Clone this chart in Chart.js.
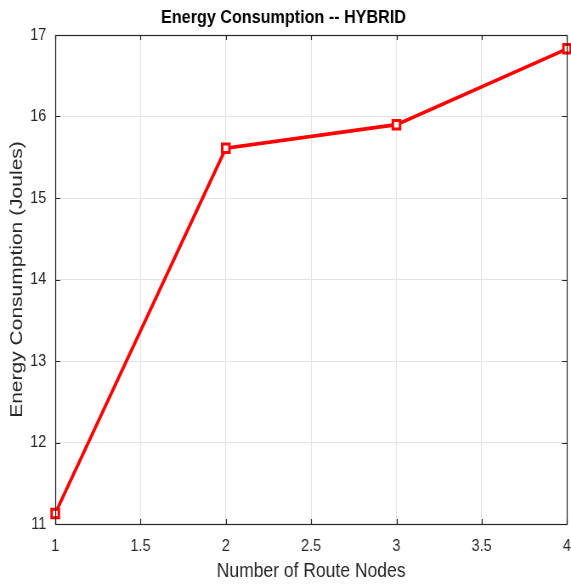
<!DOCTYPE html>
<html>
<head>
<meta charset="utf-8">
<script src="https://cdn.jsdelivr.net/npm/chart.js@4/dist/chart.umd.min.js"></script>
<style>
  html, body { margin: 0; padding: 0; background: #ffffff; overflow: hidden; }
  #wrap { width: 571px; height: 586px; }
  #c { width: 571px; height: 586px; display: block; }
</style>
</head>
<body>
<div id="wrap"><canvas id="c" width="672" height="586" style="width:571px;height:586px;"></canvas></div>
<script>
const routeNodes = [1, 2, 3, 4];
const energyJoules = [11.13, 15.61, 15.90, 16.83];
const xTicks = [1, 1.5, 2, 2.5, 3, 3.5, 4];
const yTicks = [11, 12, 13, 14, 15, 16, 17];
const chartTitle = 'Energy Consumption -- HYBRID';
const xTitle = 'Number of Route Nodes';
const yTitle = 'Energy Consumption (Joules)';

const axisColor = '#262626';
const baseFont = "'Liberation Sans', Arial, Helvetica, sans-serif";

const boxPlugin = {
  id: 'boxPlugin',
  afterDraw(chart) {
    const { ctx, chartArea: a, scales } = chart;
    ctx.save();
    ctx.strokeStyle = axisColor;
    ctx.lineWidth = 1.2;
    ctx.beginPath();
    scales.x.ticks.forEach(tk => {
      const px = Math.round(scales.x.getPixelForValue(tk.value)) + 0.5;
      ctx.moveTo(px, a.bottom); ctx.lineTo(px, a.bottom - 5);
      ctx.moveTo(px, a.top); ctx.lineTo(px, a.top + 5);
    });
    scales.y.ticks.forEach(tk => {
      const py = Math.round(scales.y.getPixelForValue(tk.value)) + 0.5;
      ctx.moveTo(a.left, py); ctx.lineTo(a.left + 6, py);
      ctx.moveTo(a.right, py); ctx.lineTo(a.right - 6, py);
    });
    ctx.stroke();
    ctx.strokeRect(Math.round(a.left) + 0.5, Math.round(a.top) + 0.5,
                   Math.round(a.right - a.left), Math.round(a.bottom - a.top));
    ctx.restore();
  }
};

new Chart(document.getElementById('c'), {
  type: 'line',
  data: {
    datasets: [{
      data: routeNodes.map((x, i) => ({ x: x, y: energyJoules[i] })),
      borderColor: '#ff0000',
      borderWidth: 3.6,
      pointStyle: 'rect',
      pointRadius: 6,
      pointBorderWidth: 3,
      pointBackgroundColor: '#ffffff',
      pointBorderColor: '#ff0000',
      tension: 0,
      clip: false
    }]
  },
  options: {
    responsive: false,
    animation: false,
    devicePixelRatio: 1,
    layout: { autoPadding: false, padding: { left: 0, right: 4.7, top: 0, bottom: 0 } },
    plugins: {
      legend: { display: false },
      tooltip: { enabled: false },
      title: {
        display: true,
        text: chartTitle,
        color: '#000000',
        font: { family: baseFont, size: 19, weight: 'bold' },
        padding: { top: 6, bottom: 6.2 }
      }
    },
    scales: {
      x: {
        type: 'linear',
        min: 1, max: 4,
        afterBuildTicks: s => { s.ticks = xTicks.map(v => ({ value: v })); },
        afterFit: s => { s.height = 62; s.paddingLeft = 0; s.paddingRight = 0; },
        grid: { color: '#e3e3e3', drawTicks: false },
        border: { display: false },
        ticks: {
          color: axisColor,
          padding: 12,
          maxRotation: 0,
          font: { family: baseFont, size: 17 },
          callback: v => String(v)
        },
        title: {
          display: true,
          text: xTitle,
          color: axisColor,
          font: { family: baseFont, size: 20.6 },
          padding: { top: 0, bottom: 2 }
        }
      },
      y: {
        type: 'linear',
        min: 11, max: 17,
        afterBuildTicks: s => { s.ticks = yTicks.map(v => ({ value: v })); },
        afterFit: s => { s.width = 65; },
        grid: { color: '#e3e3e3', drawTicks: false },
        border: { display: false },
        ticks: {
          color: axisColor,
          padding: 10.5,
          font: { family: baseFont, size: 17 },
          callback: v => String(v)
        },
        title: {
          display: true,
          text: yTitle,
          color: axisColor,
          font: { family: baseFont, size: 21 },
          padding: { top: 7.4, bottom: 0 }
        }
      }
    }
  },
  plugins: [boxPlugin]
});
</script>
</body>
</html>
